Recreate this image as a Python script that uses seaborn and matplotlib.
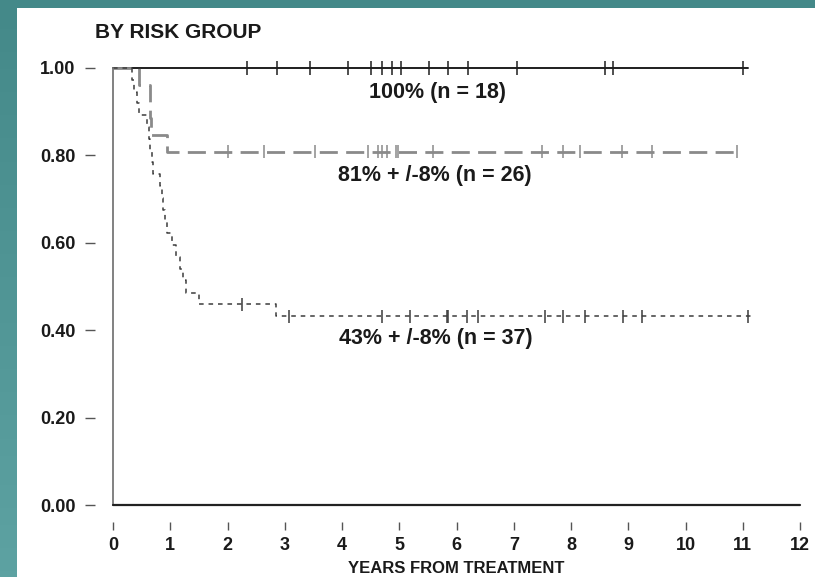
import numpy as np
import pandas as pd
import matplotlib
matplotlib.use('Agg')
import matplotlib.pyplot as plt
from matplotlib.colors import LinearSegmentedColormap
from matplotlib.patches import Rectangle
import seaborn as sns

# Kaplan-Meier steps (years, survival)
high_t = [0.0, 11.1]
high_s = [1.0, 1.0]
high_cens = [2.34, 2.86, 3.44, 4.10, 4.51, 4.70, 4.87, 5.03, 5.52, 5.85, 6.20, 7.06, 8.59, 8.73, 11.0]

mid_t = [0.0, 0.45, 0.64, 0.65, 0.66, 0.94, 10.9]
mid_s = [1.0, 0.962, 0.923, 0.885, 0.846, 0.808, 0.808]
mid_cens = [2.0, 2.64, 3.53, 4.45, 4.63, 4.70, 4.79, 4.94, 4.98, 5.59, 7.49, 7.86, 8.16, 8.89, 9.41, 10.9]

low_t = [0.0, 0.33, 0.37, 0.42, 0.45, 0.60, 0.63, 0.65, 0.68, 0.70, 0.82, 0.86, 0.88,
         0.90, 0.95, 1.03, 1.10, 1.17, 1.23, 1.28, 1.50, 2.85, 11.15]
low_s = [1.0, 0.973, 0.946, 0.919, 0.892, 0.865, 0.838, 0.811, 0.784, 0.757, 0.730, 0.703, 0.676,
         0.649, 0.622, 0.595, 0.568, 0.541, 0.514, 0.486, 0.459, 0.432, 0.432]
low_cens = [2.25, 3.07, 4.70, 5.19, 5.83, 5.86, 6.18, 6.38, 7.55, 7.86, 8.25, 8.91, 9.24, 11.1]

groups = ['high', 'mid', 'low']
labels = ['100% (n = 18)', '81% + /-8% (n = 26)', '43% + /-8% (n = 37)']
label_pos = [(5.66, 0.945), (5.62, 0.753), (5.64, 0.38)]
x_ticks = list(range(13))
y_ticks = [0.0, 0.2, 0.4, 0.6, 0.8, 1.0]
y_ticklabels = ['0.00', '0.20', '0.40', '0.60', '0.80', '1.00']

curves = {'high': (high_t, high_s, high_cens),
          'mid': (mid_t, mid_s, mid_cens),
          'low': (low_t, low_s, low_cens)}

rows, cens_rows = [], []
for g in groups:
    t, s, c = curves[g]
    for ti, si in zip(t, s):
        rows.append({'years': ti, 'surv': si, 'group': g})
    for ci in c:
        idx = np.searchsorted(t, ci, side='right') - 1
        cens_rows.append({'years': ci, 'surv': s[idx], 'group': g})
df = pd.DataFrame(rows)
cens = pd.DataFrame(cens_rows)

sns.set_style('white')
plt.rcParams['font.family'] = ['Liberation Sans', 'DejaVu Sans']

palette = {'high': '#1e1e1e', 'mid': '#8a8a8a', 'low': '#3c3c3c'}
dashes = {'high': '', 'mid': (6.5, 3), 'low': (3, 3.2)}
sizes = {'high': 1.4, 'mid': 2.0, 'low': 1.1}

fig = plt.figure(figsize=(8.15, 5.77), dpi=100)

# teal slide background (slightly lighter towards the bottom) with white panel
bg = fig.add_axes([0, 0, 1, 1], zorder=-10)
teal = LinearSegmentedColormap.from_list('teal', ['#448989', '#5da2a2'])
bg.imshow(np.linspace(0, 1, 100).reshape(-1, 1), cmap=teal, aspect='auto',
          extent=(0, 1, 1, 0))
bg.add_patch(Rectangle((17 / 815, 8 / 577), 798 / 815, 569 / 577, facecolor='white',
                       edgecolor='none'))
bg.set_xlim(0, 1)
bg.set_ylim(1, 0)
bg.axis('off')

ax = fig.add_axes([113 / 815, 72 / 577, 687 / 815, 437 / 577])
ax.set_facecolor('none')

sns.lineplot(data=df, x='years', y='surv', hue='group', style='group', size='group',
             palette=palette, dashes=dashes, sizes=sizes, drawstyle='steps-post',
             estimator=None, sort=False, legend=False, ax=ax)
sns.scatterplot(data=cens, x='years', y='surv', hue='group', palette=palette,
                marker='|', s=90, linewidth=1.1, legend=False, ax=ax)
for art in ax.lines + ax.collections:
    art.set_clip_on(False)

# axis lines at the origin, tick marks set apart from them
ax.axvline(0, color='#777777', lw=1.3, clip_on=False)
ax.axhline(0, color='#222222', lw=1.6, clip_on=False)
for side in ['top', 'right', 'left', 'bottom']:
    ax.spines[side].set_visible(False)
ax.spines['left'].set_position(('outward', 13))
ax.spines['bottom'].set_position(('outward', 12))

ax.set_xlim(0, 12)
ax.set_ylim(0, 1)
ax.set_xticks(x_ticks)
ax.set_xticklabels([str(v) for v in x_ticks], fontsize=13, fontweight='bold', color='#1a1a1a')
ax.set_yticks(y_ticks)
ax.set_yticklabels(y_ticklabels, fontsize=13, fontweight='bold', color='#1a1a1a')
ax.tick_params(axis='y', left=True, length=7, width=1, color='#555555', pad=7)
ax.tick_params(axis='x', bottom=True, length=6, width=1, color='#555555', pad=5)
ax.set_xlabel('YEARS FROM TREATMENT', fontsize=12, fontweight='bold', color='#1a1a1a', labelpad=5)
ax.set_ylabel('')

for (x, y), txt in zip(label_pos, labels):
    ax.text(x, y, txt, ha='center', va='center', fontsize=15.5, fontweight='bold', color='#1a1a1a')

fig.text(95 / 815, 1 - 32 / 577, 'BY RISK GROUP', ha='left', va='center',
         fontsize=15, fontweight='bold', color='#1a1a1a')

fig.savefig('out.png', dpi=100)
